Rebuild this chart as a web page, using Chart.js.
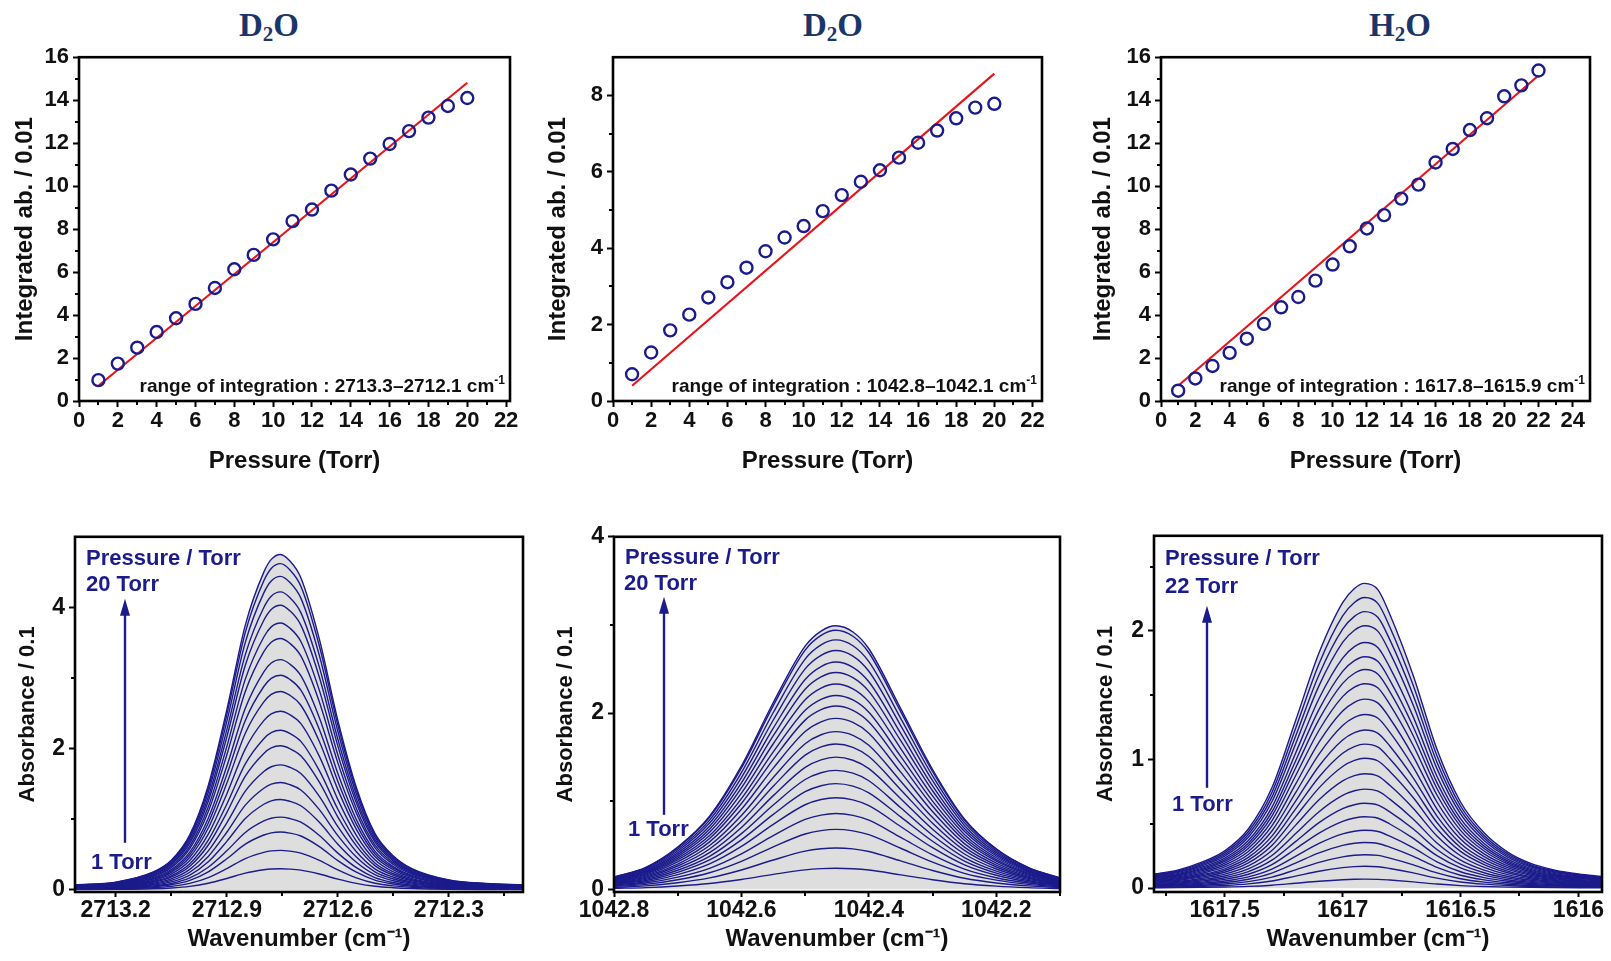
<!DOCTYPE html>
<html>
<head>
<meta charset="utf-8">
<script src="https://cdn.jsdelivr.net/npm/chart.js@4.4.0/dist/chart.umd.min.js"></script>
<style>
  body { margin: 0; background: #fff; width: 1611px; height: 961px; position: relative; overflow: hidden; }
  canvas { position: absolute; }
  .ttl { position: absolute; font: bold 33px "Liberation Serif", "Times New Roman", serif; line-height: 33px;
         color: #1a3668; transform: translateX(-50%); white-space: nowrap; }
  .ttl sub { font-size: 21px; vertical-align: -5px; line-height: 0; }
</style>
</head>
<body>
<div class="ttl" style="left:269px;top:9px">D<sub>2</sub>O</div>
<div class="ttl" style="left:833px;top:9px">D<sub>2</sub>O</div>
<div class="ttl" style="left:1400px;top:9px">H<sub>2</sub>O</div>

<canvas id="c1" style="left:11px;top:40px" width="511" height="436"></canvas>
<canvas id="c2" style="left:544px;top:40px" width="510" height="436"></canvas>
<canvas id="c3" style="left:1089px;top:40px" width="513" height="436"></canvas>
<canvas id="c4" style="left:15px;top:519px" width="520" height="435"></canvas>
<canvas id="c5" style="left:553px;top:519px" width="519" height="435"></canvas>
<canvas id="c6" style="left:1093px;top:518px" width="518" height="436"></canvas>

<script>
// ---- integrated absorbance vs pressure (top row) ----
var pressure20 = [1,2,3,4,5,6,7,8,9,10,11,12,13,14,15,16,17,18,19,20]
var pressure22 = [1,2,3,4,5,6,7,8,9,10,11,12,13,14,15,16,17,18,19,20,21,22]

var intAbs2713 = [0.97,1.74,2.48,3.21,3.85,4.52,5.26,6.13,6.80,7.52,8.37,8.91,9.79,10.54,11.28,11.96,12.56,13.19,13.73,14.10]
var fitP2713 = [1, 20]
var fitY2713 = [0.71, 14.81]

var intAbs1042 = [0.70,1.27,1.85,2.26,2.71,3.11,3.49,3.92,4.28,4.58,4.97,5.39,5.74,6.04,6.37,6.76,7.08,7.40,7.68,7.78]
var fitP1042 = [1, 20]
var fitY1042 = [0.40, 8.57]

var intAbs1617 = [0.48,1.05,1.63,2.24,2.90,3.59,4.36,4.84,5.60,6.35,7.20,8.03,8.65,9.42,10.07,11.10,11.73,12.61,13.16,14.18,14.69,15.38]
var fitP1617 = [1, 22]
var fitY1617 = [0.71, 15.15]

// ---- spectra (bottom row): highest-pressure profile + peak height per pressure ----
var wn2713  = [2713.31,2713.2,2713.1,2713.05,2713.0,2712.95,2712.9,2712.85,2712.8,2712.78,2712.755,2712.73,2712.7,2712.65,2712.6,2712.55,2712.5,2712.45,2712.4,2712.3,2712.2,2712.1]
var abs2713 = [0.07,0.11,0.25,0.42,0.78,1.48,2.55,3.75,4.5,4.68,4.75,4.66,4.42,3.55,2.4,1.45,0.8,0.48,0.3,0.14,0.09,0.07]
var peak2713 = [0.30,0.56,0.82,1.03,1.28,1.52,1.77,2.04,2.26,2.53,2.81,3.04,3.26,3.56,3.78,4.03,4.22,4.44,4.62,4.75]

var wn1042  = [1042.8,1042.75,1042.7,1042.65,1042.6,1042.55,1042.5,1042.475,1042.452,1042.425,1042.4,1042.35,1042.3,1042.25,1042.2,1042.15,1042.1]
var abs1042 = [0.14,0.25,0.48,0.83,1.40,2.12,2.76,2.93,2.99,2.92,2.73,2.05,1.36,0.80,0.46,0.25,0.13]
var peak1042 = [0.24,0.47,0.68,0.86,1.04,1.20,1.35,1.50,1.65,1.79,1.94,2.08,2.20,2.33,2.46,2.58,2.71,2.83,2.94,2.99]

var wn1617  = [1617.8,1617.7,1617.6,1617.5,1617.4,1617.3,1617.2,1617.1,1617.0,1616.95,1616.907,1616.85,1616.8,1616.7,1616.6,1616.5,1616.4,1616.3,1616.2,1616.1,1616.0,1615.9]
var abs1617 = [0.11,0.14,0.20,0.29,0.46,0.78,1.30,1.83,2.22,2.33,2.37,2.32,2.13,1.65,1.08,0.67,0.43,0.28,0.19,0.14,0.11,0.09]
var peak1617 = [0.07,0.17,0.26,0.355,0.45,0.555,0.66,0.77,0.89,1.01,1.12,1.23,1.35,1.47,1.59,1.70,1.80,1.91,2.04,2.15,2.26,2.37]

// ---- tick labels ----
var pTicks22 = [0,2,4,6,8,10,12,14,16,18,20,22]
var pTicks24 = [0,2,4,6,8,10,12,14,16,18,20,22,24]
var pMinor22 = [1,3,5,7,9,11,13,15,17,19,21]
var pMinor24 = [1,3,5,7,9,11,13,15,17,19,21,23]
var aTicks16 = [0,2,4,6,8,10,12,14,16]
var aMinor16 = [1,3,5,7,9,11,13,15]
var aTicks8 = [0,2,4,6,8]
var aMinor8 = [1,3,5,7]
var wnTicks2713 = [2713.2,2712.9,2712.6,2712.3]
var wnMinor2713 = [2713.05,2712.75,2712.45,2712.15]
var wnTicks1042 = [1042.8,1042.6,1042.4,1042.2]
var wnMinor1042 = [1042.7,1042.5,1042.3,1042.1]
var wnTicks1617 = [1617.5,1617,1616.5,1616]
var wnMinor1617 = [1617.75,1617.25,1616.75,1616.25]
var absTicks4 = [0,2,4]
var absMinor4 = [1,3]
var absTicks2 = [0,1,2]
var absMinor2 = [0.5,1.5,2.5]

var FONT = '"Liberation Sans", Arial, sans-serif'
var NAVY = '#1b1b8c'
var INK = '#111'

// frame, minor ticks and the text notes inside the plots
var deco = {
  id: 'deco',
  afterDraw: function(chart, args, o) {
    var ctx = chart.ctx, a = chart.chartArea, sx = chart.scales.x, sy = chart.scales.y
    ctx.save()
    ctx.strokeStyle = '#000'
    ctx.lineWidth = 2
    ctx.beginPath();
    (o.minorX || []).forEach(function(v) {
      var px = Math.round(sx.getPixelForValue(v))
      ctx.moveTo(px, a.bottom); ctx.lineTo(px, a.bottom + 4)
    });
    (o.minorY || []).forEach(function(v) {
      var py = Math.round(sy.getPixelForValue(v))
      ctx.moveTo(a.left - 4, py); ctx.lineTo(a.left, py)
    })
    ctx.stroke()
    ctx.lineWidth = 2.6
    ctx.strokeRect(a.left, a.top, a.right - a.left, a.bottom - a.top)

    if (o.range) {
      ctx.fillStyle = INK
      ctx.textBaseline = 'alphabetic'
      ctx.textAlign = 'right'
      ctx.font = 'bold 12px ' + FONT
      var supW = ctx.measureText('-1').width
      var xr = a.right - 5, yb = a.bottom - 9
      ctx.fillText('-1', xr, yb - 8)
      ctx.font = 'bold 19px ' + FONT
      ctx.fillText(o.range, xr - supW, yb)
    }
    if (o.notes) {
      ctx.fillStyle = NAVY
      ctx.textAlign = 'left'
      ctx.textBaseline = 'middle'
      ctx.font = 'bold 22px ' + FONT
      o.notes.forEach(function(n) { ctx.fillText(n.t, a.left + n.dx, a.top + n.dy) })
    }
    if (o.arrow) {
      var ar = o.arrow, x = a.left + ar.dx
      ctx.strokeStyle = NAVY
      ctx.fillStyle = NAVY
      ctx.lineWidth = 2.4
      ctx.beginPath()
      ctx.moveTo(x, a.top + ar.y0); ctx.lineTo(x, a.top + ar.y1 + 14)
      ctx.stroke()
      ctx.beginPath()
      ctx.moveTo(x, a.top + ar.y1)
      ctx.lineTo(x - 5, a.top + ar.y1 + 17)
      ctx.lineTo(x + 5, a.top + ar.y1 + 17)
      ctx.closePath()
      ctx.fill()
    }
    ctx.restore()
  }
}

function makeScale(opt) {
  return {
    type: 'linear',
    min: opt.min, max: opt.max, reverse: !!opt.reverse,
    afterBuildTicks: function(ax) { ax.ticks = opt.ticks.map(function(v) { return {value: v} }) },
    afterFit: function(ax) { if (opt.isX) ax.height = opt.size; else ax.width = opt.size },
    grid: {drawOnChartArea: false, drawTicks: true, tickLength: opt.tickLen || 6, tickWidth: 2, tickColor: '#000'},
    border: {display: false},
    ticks: {
      color: INK, padding: opt.pad, autoSkip: false, maxRotation: 0,
      font: {family: FONT, size: opt.tickSize, weight: 'bold'},
      callback: function(v) { return String(v) }
    },
    title: {display: true, text: opt.title, color: INK, padding: 0,
            font: {family: FONT, size: opt.titleSize, weight: 'bold'}}
  }
}

function topChart(id, pressures, values, fitP, fitY, xo, yo, rangeText, minorX, minorY) {
  return new Chart(document.getElementById(id), {
    type: 'scatter',
    data: {
      datasets: [
        {
          data: pressures.map(function(p, i) { return {x: p, y: values[i]} }),
          pointRadius: 6, pointBorderWidth: 2.4, pointBorderColor: NAVY,
          pointBackgroundColor: 'rgba(0,0,0,0)', showLine: false, order: 0
        },
        {
          type: 'line',
          data: fitP.map(function(p, i) { return {x: p, y: fitY[i]} }),
          borderColor: '#e8141c', borderWidth: 2.2, pointRadius: 0, fill: false, order: 1
        }
      ]
    },
    options: {
      responsive: false, animation: false, devicePixelRatio: 1,
      layout: {padding: {top: 13, right: 12, left: 0, bottom: 0}},
      plugins: {legend: {display: false}, tooltip: {enabled: false},
                deco: {minorX: minorX, minorY: minorY, range: rangeText}},
      scales: {x: makeScale(xo), y: makeScale(yo)}
    },
    plugins: [deco]
  })
}

function spectrumChart(id, wn, profile, peaks, xo, yo, rightPad, top, notes, arrow) {
  var last = peaks[peaks.length - 1]
  var sets = peaks.map(function(pk, i) {
    var isTop = i === peaks.length - 1
    return {
      data: wn.map(function(w, j) { return {x: w, y: profile[j] * pk / last} }),
      borderColor: NAVY, borderWidth: 1.4, pointRadius: 0,
      cubicInterpolationMode: 'monotone',
      fill: isTop ? 'origin' : false,
      backgroundColor: '#dedede'
    }
  })
  return new Chart(document.getElementById(id), {
    type: 'line',
    data: {datasets: sets},
    options: {
      responsive: false, animation: false, devicePixelRatio: 1,
      layout: {padding: {top: top, right: rightPad, left: 0, bottom: 0}},
      plugins: {legend: {display: false}, tooltip: {enabled: false},
                filler: {drawTime: 'beforeDatasetsDraw'},
                deco: {minorX: xo.minor, minorY: yo.minor, notes: notes, arrow: arrow}},
      scales: {x: makeScale(xo), y: makeScale(yo)}
    },
    plugins: [deco]
  })
}

var pTitle = 'Pressure (Torr)', aTitle = 'Integrated ab. / 0.01'
var wTitle = 'Wavenumber (cm\u207B\u00B9)', bTitle = 'Absorbance / 0.1'

topChart('c1', pressure20, intAbs2713, fitP2713, fitY2713,
  {isX: true, min: 0, max: 22.2, ticks: pTicks22, size: 75, pad: 1, tickSize: 22, title: pTitle, titleSize: 24},
  {min: 0, max: 16, ticks: aTicks16, size: 68, pad: 4, tickSize: 22, title: aTitle, titleSize: 24},
  'range of integration : 2713.3\u20132712.1 cm', pMinor22, aMinor16)

topChart('c2', pressure20, intAbs1042, fitP1042, fitY1042,
  {isX: true, min: 0, max: 22.5, ticks: pTicks22, size: 75, pad: 1, tickSize: 22, title: pTitle, titleSize: 24},
  {min: 0, max: 9, ticks: aTicks8, size: 69, pad: 4, tickSize: 22, title: aTitle, titleSize: 24},
  'range of integration : 1042.8\u20131042.1 cm', pMinor22, aMinor8)

topChart('c3', pressure22, intAbs1617, fitP1617, fitY1617,
  {isX: true, min: 0, max: 25, ticks: pTicks24, size: 75, pad: 1, tickSize: 22, title: pTitle, titleSize: 24},
  {min: 0, max: 16, ticks: aTicks16, size: 72, pad: 4, tickSize: 22, title: aTitle, titleSize: 24},
  'range of integration : 1617.8\u20131615.9 cm', pMinor24, aMinor16)

spectrumChart('c4', wn2713, abs2713, peak2713,
  {isX: true, min: 2712.1, max: 2713.31, reverse: true, ticks: wnTicks2713, minor: wnMinor2713, size: 62, pad: 0, tickLen: 5, tickSize: 23, title: wTitle, titleSize: 24},
  {min: -0.03, max: 5.0, ticks: absTicks4, minor: absMinor4, size: 60, pad: 4, tickSize: 23, title: bTitle, titleSize: 22},
  12, 13,
  [{t: 'Pressure / Torr', dx: 11, dy: 22}, {t: '20 Torr', dx: 11, dy: 48}, {t: '1 Torr', dx: 16, dy: 326}],
  {dx: 50, y0: 306, y1: 62})

spectrumChart('c5', wn1042, abs1042, peak1042,
  {isX: true, min: 1042.1, max: 1042.8, reverse: true, ticks: wnTicks1042, minor: wnMinor1042, size: 62, pad: 0, tickLen: 5, tickSize: 23, title: wTitle, titleSize: 24},
  {min: -0.03, max: 4.0, ticks: absTicks4, minor: absMinor4, size: 61, pad: 4, tickSize: 23, title: bTitle, titleSize: 22},
  12, 13,
  [{t: 'Pressure / Torr', dx: 11, dy: 21}, {t: '20 Torr', dx: 10, dy: 47}, {t: '1 Torr', dx: 14, dy: 293}],
  {dx: 50, y0: 278, y1: 60})

spectrumChart('c6', wn1617, abs1617, peak1617,
  {isX: true, min: 1615.9, max: 1617.8, reverse: true, ticks: wnTicks1617, minor: wnMinor1617, size: 62, pad: 0, tickLen: 5, tickSize: 23, title: wTitle, titleSize: 24},
  {min: -0.03, max: 2.74, ticks: absTicks2, minor: absMinor2, size: 61, pad: 4, tickSize: 23, title: bTitle, titleSize: 22},
  9, 13,
  [{t: 'Pressure / Torr', dx: 11, dy: 23}, {t: '22 Torr', dx: 11, dy: 51}, {t: '1 Torr', dx: 18, dy: 269}],
  {dx: 53, y0: 252, y1: 70})
</script>
</body>
</html>
